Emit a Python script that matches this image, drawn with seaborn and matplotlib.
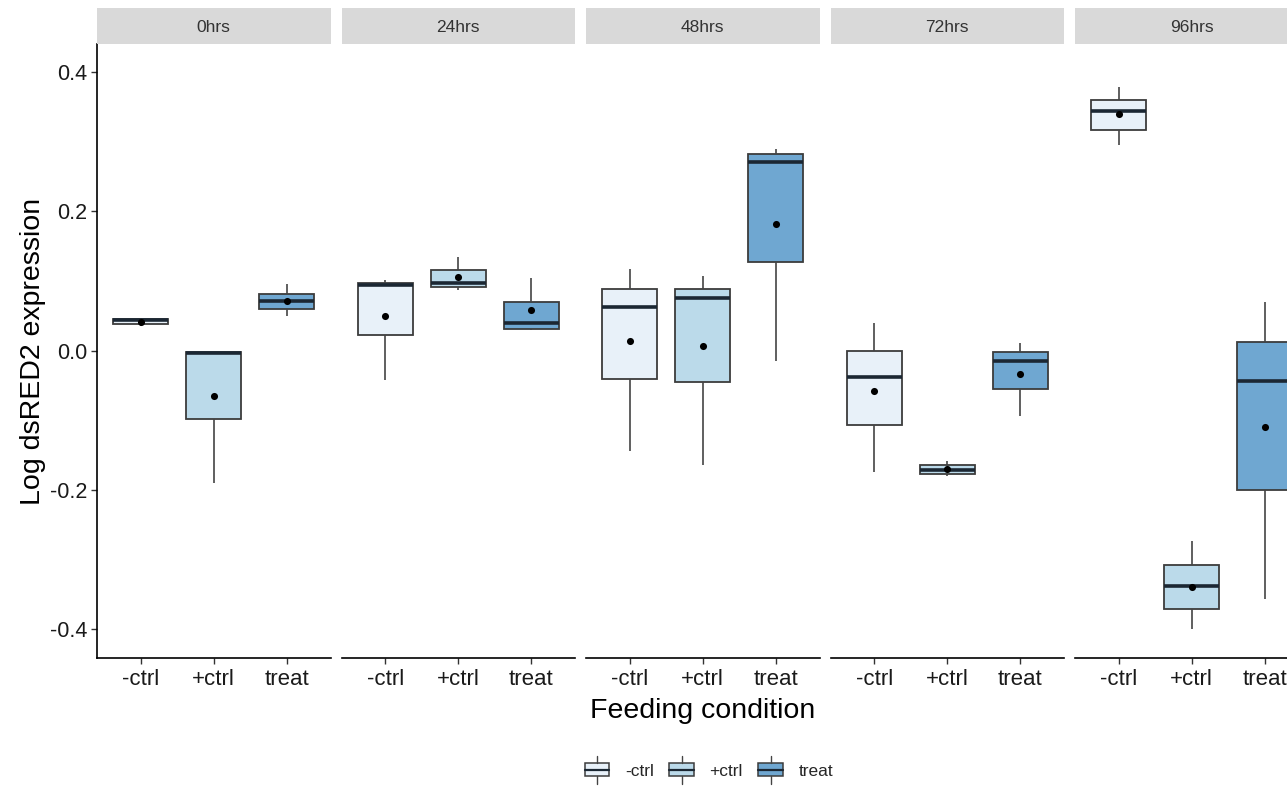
import numpy as np
import pandas as pd
import matplotlib
matplotlib.use("Agg")
import matplotlib.pyplot as plt
import seaborn as sns
from matplotlib.legend_handler import HandlerBase
from matplotlib.patches import Rectangle, Patch
from matplotlib.lines import Line2D

# ---- data -------------------------------------------------------------
times = ["0hrs", "24hrs", "48hrs", "72hrs", "96hrs"]
conditions = ["-ctrl", "+ctrl", "treat"]

# per time point, values in the order of `conditions`
whisker_low = [[0.0355, -0.191, 0.050],
               [-0.043, 0.087, 0.029],
               [-0.144, -0.164, -0.0154],
               [-0.174, -0.180, -0.0945],
               [0.295, -0.400, -0.357]]
q1 = [[0.0374, -0.098, 0.059],
      [0.023, 0.0916, 0.031],
      [-0.041, -0.045, 0.127],
      [-0.1075, -0.177, -0.056],
      [0.317, -0.372, -0.201]]
median = [[0.0440, -0.003, 0.071],
          [0.0935, 0.0964, 0.040],
          [0.062, 0.0748, 0.271],
          [-0.038, -0.172, -0.0144],
          [0.344, -0.338, -0.044]]
q3 = [[0.0446, -0.0025, 0.0806],
      [0.0974, 0.115, 0.070],
      [0.089, 0.089, 0.2816],
      [0.0, -0.165, -0.0024],
      [0.360, -0.308, 0.0125]]
whisker_high = [[0.046, -0.0025, 0.095],
                [0.102, 0.135, 0.1046],
                [0.1175, 0.107, 0.289],
                [0.039, -0.158, 0.011],
                [0.378, -0.273, 0.070]]
means = [[0.0407, -0.066, 0.071],
         [0.049, 0.105, 0.058],
         [0.0134, 0.0068, 0.182],
         [-0.0576, -0.170, -0.0336],
         [0.340, -0.339, -0.110]]

y_ticks = [-0.4, -0.2, 0.0, 0.2, 0.4]
y_tick_labels = ["-0.4", "-0.2", "0.0", "0.2", "0.4"]

palette = {"-ctrl": "#E8F1F9", "+ctrl": "#BBDAEA", "treat": "#6FA7D1"}

# five values per group whose quartiles and extremes give each box
rows = []
for ti, t in enumerate(times):
    for ci, c in enumerate(conditions):
        for v in (whisker_low[ti][ci], q1[ti][ci], median[ti][ci],
                  q3[ti][ci], whisker_high[ti][ci]):
            rows.append({"time": t, "condition": c, "value": v})
df = pd.DataFrame(rows)

# ---- style ------------------------------------------------------------
sns.set_theme(style="white")
plt.rcParams["font.family"] = ["Liberation Sans", "DejaVu Sans"]

W, H = 1287, 787
fig = plt.figure(figsize=(W / 100, H / 100), dpi=100)
fig.patch.set_facecolor("white")

panel_left = [97, 341.5, 586, 830.5, 1075]
panel_w = 233.5
panel_top, panel_bottom = 44, 658
strip_top = 8

edge = "#3c3c3c"
for ti, t in enumerate(times):
    x0 = panel_left[ti]
    ax = fig.add_axes([x0 / W, 1 - panel_bottom / H, panel_w / W,
                       (panel_bottom - panel_top) / H])
    sub = df[df["time"] == t]
    sns.boxplot(data=sub, x="condition", y="value", hue="condition",
                order=conditions, hue_order=conditions, palette=palette,
                saturation=1, width=0.75, whis=(0, 100), showcaps=False,
                fliersize=0, linecolor=edge, linewidth=1.3,
                medianprops=dict(color="#1b2733", linewidth=2.6),
                whiskerprops=dict(color="#444444", linewidth=1.2),
                legend=False, ax=ax)
    ax.scatter(np.arange(len(conditions)), means[ti], s=26, color="black",
               zorder=5, linewidths=0)

    ax.set_xlim(-0.6, 2.6)
    ax.set_ylim(-0.4417, 0.4403)
    ax.set_xlabel("")
    ax.set_ylabel("")
    ax.set_facecolor("white")
    for s in ("top", "right"):
        ax.spines[s].set_visible(False)
    ax.spines["bottom"].set_color("black")
    ax.spines["bottom"].set_linewidth(1.2)
    ax.spines["left"].set_visible(ti == 0)
    ax.spines["left"].set_color("black")
    ax.spines["left"].set_linewidth(1.2)
    ax.set_xticks(range(len(conditions)))
    ax.set_xticklabels(conditions)
    ax.set_yticks(y_ticks)
    ax.set_yticklabels(y_tick_labels)
    ax.tick_params(axis="x", bottom=True, direction="out", length=4,
                   width=1, color="#333333", labelsize=16, pad=4,
                   labelcolor="#1a1a1a")
    ax.tick_params(axis="y", left=(ti == 0), labelleft=(ti == 0),
                   direction="out", length=4, width=1, color="#333333",
                   labelsize=15.5, pad=3, labelcolor="#1a1a1a")
    ax.grid(False)

    # facet strip
    sax = fig.add_axes([x0 / W, 1 - panel_top / H, panel_w / W,
                        (panel_top - strip_top) / H])
    sax.set_facecolor("#D9D9D9")
    sax.set_xticks([])
    sax.set_yticks([])
    for s in sax.spines.values():
        s.set_visible(False)
    sax.text(0.5, 0.45, t, ha="center", va="center", fontsize=12.5,
             color="#333333", transform=sax.transAxes)

fig.text(33 / W, 1 - 351 / H, "Log dsRED2 expression", rotation=90,
         ha="center", va="center", fontsize=20.5, color="black")
fig.text(703 / W, 1 - 711 / H, "Feeding condition", ha="center",
         va="center", fontsize=20.5, color="black")


class BoxKeyHandler(HandlerBase):
    """Legend key drawn as a small boxplot glyph."""

    def create_artists(self, legend, orig_handle, xdescent, ydescent,
                       width, height, fontsize, trans):
        fc = orig_handle.get_facecolor()
        bh = height
        by = -ydescent
        cx = -xdescent + width / 2
        box = Rectangle((-xdescent, by), width, bh, facecolor=fc,
                        edgecolor=edge, linewidth=1.1, transform=trans)
        med = Line2D([-xdescent, -xdescent + width],
                     [by + bh / 2, by + bh / 2], color="#1b2733",
                     linewidth=1.6, transform=trans)
        w1 = Line2D([cx, cx], [by + bh, by + bh + height * 0.55],
                    color="#444444", linewidth=1.0, transform=trans)
        w2 = Line2D([cx, cx], [by - height * 0.55, by],
                    color="#444444", linewidth=1.0, transform=trans)
        return [box, med, w1, w2]


handles = [Patch(facecolor=palette[c], label=c) for c in conditions]
fig.legend(handles=handles, labels=conditions, loc="center",
           bbox_to_anchor=(709 / W, 1 - 771 / H), ncol=3, frameon=False,
           fontsize=12.5, handlelength=1.4, handleheight=0.8,
           handletextpad=0.9, columnspacing=0.9,
           handler_map={Patch: BoxKeyHandler()})

fig.savefig("out.png", dpi=100, facecolor="white")
